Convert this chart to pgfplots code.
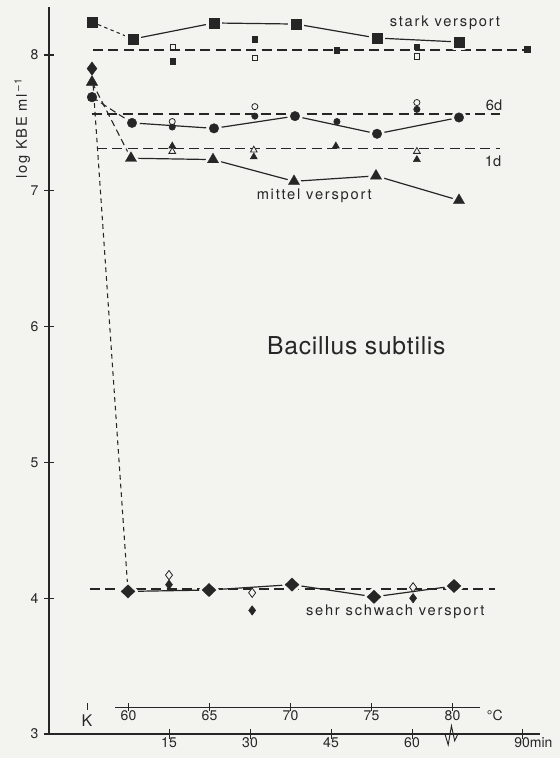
\documentclass[border=0pt]{standalone}
\usepackage{fontspec}
\setmainfont{TeX Gyre Heros}
\newfontfamily\spaced[LetterSpace=12]{TeX Gyre Heros}
\newfontfamily\titlefont[LetterSpace=3]{TeX Gyre Heros}
\usepackage{pgfplots}
\usepackage{pgfplotstable}
\pgfplotsset{compat=1.18}
\definecolor{ink}{RGB}{38,38,38}
\definecolor{bg}{RGB}{243,243,240}

% large markers (temperature steps 60..80 C)
\pgfplotstableread{
x y
8.33 8.118
23.33 8.236
38.52 8.228
53.52 8.125
68.70 8.096
}\sqL
\pgfplotstableread{
x y
8.15 7.50
23.33 7.46
38.33 7.55
53.52 7.42
68.70 7.54
}\ciL
\pgfplotstableread{
x y
7.96 7.24
23.15 7.23
38.15 7.07
53.33 7.11
68.70 6.93
}\trL
\pgfplotstableread{
x y
7.41 4.05
22.41 4.06
37.78 4.10
52.96 4.01
67.78 4.09
}\diL

\pgfplotsset{
  refl/.style={ink, line width=0.9pt, dash pattern=on 7.5pt off 4pt},
  conn/.style={ink, line width=0.9pt, mark=none},
}
\tikzset{
  lab/.style={text=ink, font=\spaced\fontsize{11}{13}\selectfont, anchor=base},
  scl/.style={text=ink, font=\fontsize{10.5}{12}\selectfont, anchor=base},
}

\begin{document}
\begin{tikzpicture}
\path[use as bounding box, fill=bg] (-36.75pt,-18pt) rectangle (383.25pt,550.5pt);
\begin{axis}[
  scale only axis, width=368.25pt, height=544.875pt,
  xmin=-7.222, xmax=83.70, ymin=3, ymax=8.35,
  clip=false,
  axis x line*=none, axis y line*=left,
  axis line style={ink, line width=0.8pt},
  ytick={3,4,5,6,7,8}, xtick=\empty,
  tick align=center, major tick length=7pt,
  tick style={ink, line width=0.8pt},
  yticklabel style={font=\fontsize{10.5}{12}\selectfont, text=ink, xshift=-1pt},
  /pgf/number format/assume math mode=true,
]
% reference (dashed) levels
\addplot[refl] coordinates {(0.9,8.037) (81.9,8.037)};
\addplot[refl] coordinates {(0.74,7.566) (76.3,7.566)};
\addplot[refl] coordinates {(1.67,7.31) (76.3,7.31)};
\addplot[refl] coordinates {(0.37,4.068) (75.4,4.068)};

% connectors K -> 60 C
\addplot[ink, line width=0.8pt, dash pattern=on 2.5pt off 2.5pt] coordinates {(0.74,8.243) (8.33,8.118)};
\addplot[ink, line width=0.8pt, dash pattern=on 5pt off 3pt] coordinates {(0.74,7.69) (8.15,7.50)};
\addplot[ink, line width=0.8pt, dash pattern=on 5pt off 3pt] coordinates {(0.74,7.80) (7.96,7.24)};
\addplot[ink, line width=0.8pt, dash pattern=on 3.5pt off 3pt] coordinates {(0.74,7.90) (7.41,4.05)};

% solid lines 60..80
\addplot[conn] table {\sqL};
\addplot[conn] table {\ciL};
\addplot[conn] table {\trL};
\addplot[conn] table {\diL};

% halos
\addplot[only marks, mark=square*, mark size=3.6pt, mark options={solid, draw=bg, fill=bg, line width=4.4pt, line join=round}] table {\sqL};
\addplot[only marks, mark=*, mark size=3.6pt, mark options={solid, draw=bg, fill=bg, line width=4.4pt}] table {\ciL};
\addplot[only marks, mark=triangle*, mark size=4.9pt, mark options={solid, draw=bg, fill=bg, line width=4.4pt, line join=round}] table {\trL};
\addplot[only marks, mark=diamond*, mark size=5pt, mark options={solid, xscale=1.4, draw=bg, fill=bg, line width=4.4pt, line join=round}] table {\diL};

% large markers
\addplot[only marks, mark=square*, mark size=3.6pt, mark options={solid, draw=ink, fill=ink, line width=0.2pt}] table {\sqL};
\addplot[only marks, mark=*, mark size=3.6pt, mark options={solid, draw=ink, fill=ink, line width=0.2pt}] table {\ciL};
\addplot[only marks, mark=triangle*, mark size=4.9pt, mark options={solid, draw=ink, fill=ink, line width=0.2pt}] table {\trL};
\addplot[only marks, mark=diamond*, mark size=5pt, mark options={solid, xscale=1.4, draw=ink, fill=ink, line width=0.2pt}] table {\diL};

% K markers
\addplot[only marks, mark=square*, mark size=3.6pt, mark options={solid, draw=ink, fill=ink}] coordinates {(0.74,8.243)};
\addplot[only marks, mark=diamond*, mark size=4.9pt, mark options={solid, draw=ink, fill=ink}] coordinates {(0.74,7.90)};
\addplot[only marks, mark=triangle*, mark size=4.9pt, mark options={solid, draw=ink, fill=ink}] coordinates {(0.74,7.80)};
\addplot[only marks, mark=*, mark size=3.6pt, mark options={solid, draw=ink, fill=ink}] coordinates {(0.74,7.69)};

% small markers (minutes)
\addplot[only marks, mark=square*, mark size=2.1pt, mark options={solid, draw=ink, fill=ink}] coordinates {(15.7,7.956) (30.9,8.118) (46.1,8.037) (60.9,8.06) (81.3,8.044)};
\addplot[only marks, mark=square*, mark size=2.0pt, mark options={solid, draw=ink, fill=bg, line width=0.6pt}] coordinates {(15.7,8.06) (30.9,7.98) (60.9,7.99)};
\addplot[only marks, mark=*, mark size=2.4pt, mark options={solid, draw=ink, fill=ink}] coordinates {(15.6,7.47) (30.9,7.55) (46.1,7.51) (60.9,7.60)};
\addplot[only marks, mark=*, mark size=2.3pt, mark options={solid, draw=ink, fill=bg, line width=0.6pt}] coordinates {(15.6,7.51) (30.9,7.62) (60.9,7.65)};
\addplot[only marks, mark=triangle*, mark size=2.9pt, mark options={solid, draw=ink, fill=bg, line width=0.6pt}] coordinates {(15.6,7.29) (30.7,7.30) (60.9,7.29)};
\addplot[only marks, mark=triangle*, mark size=3pt, mark options={solid, draw=ink, fill=ink}] coordinates {(15.6,7.33) (30.7,7.25) (45.9,7.33) (60.9,7.23)};
\addplot[only marks, mark=diamond*, mark size=3.5pt, mark options={solid, draw=ink, fill=bg, line width=0.6pt}] coordinates {(15.0,4.17) (30.4,4.04) (60.2,4.08)};
\addplot[only marks, mark=diamond*, mark size=3.5pt, mark options={solid, draw=ink, fill=ink}] coordinates {(15.0,4.10) (30.4,3.91) (60.2,4.00)};

% bottom scales: temperature and time
\addplot[ink, line width=0.7pt] coordinates {(5.0,3.199) (72.6,3.199)};
\addplot[ink, line width=0.7pt, unbounded coords=jump] coordinates {
 (7.5,3.228) (7.5,3.170) (7.5,nan)
 (22.5,3.228) (22.5,3.170) (22.5,nan)
 (37.5,3.228) (37.5,3.170) (37.5,nan)
 (52.5,3.228) (52.5,3.170) (52.5,nan)
 (67.5,3.228) (67.5,3.170) (67.5,nan)
 (-0.19,3.228) (-0.19,3.177)};
\addplot[ink, line width=0.7pt] coordinates {(5.0,3.0) (66.1,3.0) (66.7,2.92) (67.3,3.06) (67.9,2.95) (68.5,3.0) (82.4,3.0)};
\addplot[ink, line width=0.7pt, unbounded coords=jump] coordinates {
 (15,3.037) (15,2.963) (15,nan)
 (30,3.037) (30,2.963) (30,nan)
 (45,3.037) (45,2.963) (45,nan)
 (60,3.037) (60,2.963) (60,nan)
 (80.4,3.037) (80.4,2.963)};

\node[scl] at (axis cs:7.5,3.098) {60};
\node[scl] at (axis cs:22.5,3.098) {65};
\node[scl] at (axis cs:37.5,3.098) {70};
\node[scl] at (axis cs:52.5,3.098) {75};
\node[scl] at (axis cs:67.5,3.098) {80};
\node[scl, anchor=base west] at (axis cs:73.0,3.098) {°C};
\node[scl, font=\fontsize{12}{14}\selectfont] at (axis cs:-0.19,3.054) {K};
\node[scl] at (axis cs:15,2.902) {15};
\node[scl] at (axis cs:30,2.902) {30};
\node[scl] at (axis cs:45,2.902) {45};
\node[scl] at (axis cs:60,2.902) {60};
\node[scl] at (axis cs:80.4,2.902) {90\rlap{min}};

% labels
\node[lab] at (axis cs:66.1,8.208) {stark versport};
\node[lab] at (axis cs:41.9,6.937) {mittel versport};
\node[lab] at (axis cs:56.9,3.876) {sehr schwach versport};
\node[scl, font=\fontsize{11}{13}\selectfont] at (axis cs:75.2,7.595) {6d};
\node[scl, font=\fontsize{11}{13}\selectfont] at (axis cs:75.0,7.18) {1d};
\node[text=ink, font=\titlefont\fontsize{18.5}{22}\selectfont, anchor=base] at (axis cs:49.7,5.791) {Bacillus subtilis};
\node[text=ink, font=\spaced\fontsize{11}{13}\selectfont, rotate=90] at (axis cs:-12.2,7.46) {log KBE ml\,\textsuperscript{–1}};
\end{axis}
\end{tikzpicture}
\end{document}
